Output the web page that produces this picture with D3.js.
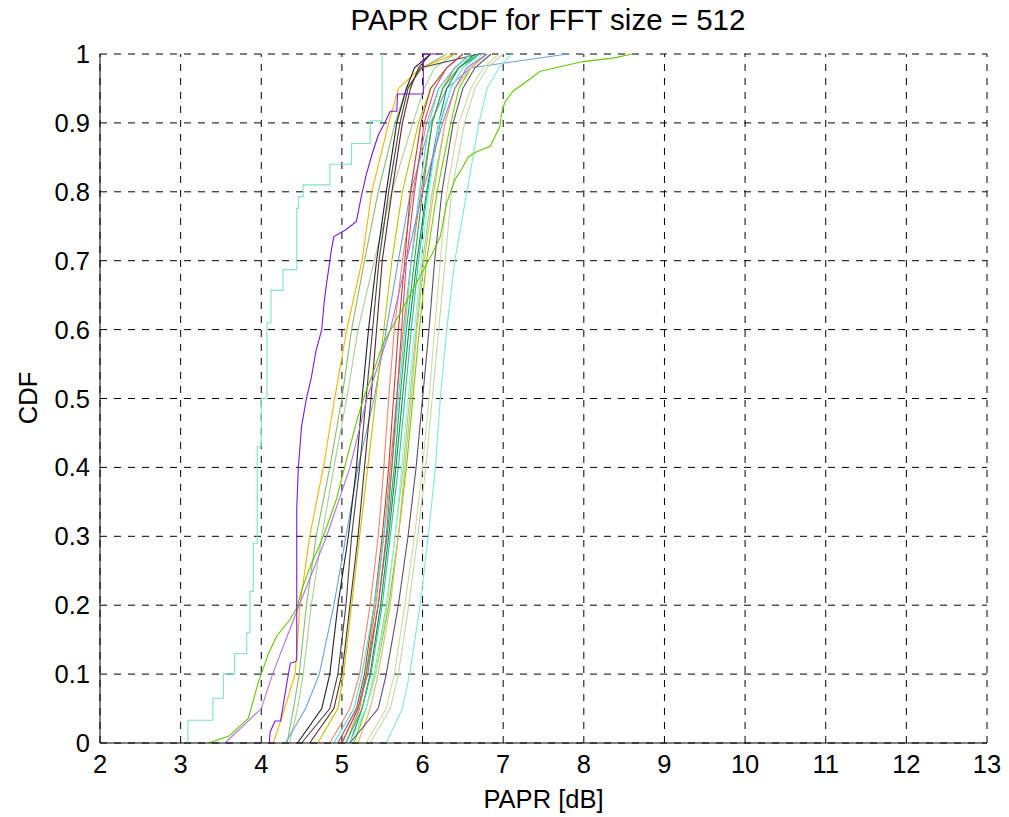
<!DOCTYPE html>
<html><head><meta charset="utf-8">
<script src="https://cdn.jsdelivr.net/npm/d3@7"></script>
<style>body{margin:0;background:#fff}svg{display:block}</style>
</head><body>
<svg id="chart" width="1009" height="817"></svg>
<script>
const title = "PAPR CDF for FFT size = 512";
const xLabel = "PAPR [dB]";
const yLabel = "CDF";
const xTicks = [2,3,4,5,6,7,8,9,10,11,12,13];
const yTicks = [0,0.1,0.2,0.3,0.4,0.5,0.6,0.7,0.8,0.9,1];
const levels = [0,0.05,0.1,0.2,0.3,0.4,0.5,0.6,0.7,0.8,0.9,0.95,0.98,1];

// curves read at the shared CDF levels (PAPR in dB)
const bundleColors = ["#a9cf96","#88bb6a","#f4b400","#6f9fe0","#b8c400","#202020","#444444","#5a2a20",
  "#f4836f","#b8452e","#f07c28","#3fe0e8","#1fae4a","#138a5a","#c0507a","#2fc08a","#8fe05a","#70d000",
  "#8ff0f0","#e8b078","#5e4e6e","#d8d4a0","#b8dca8","#80e8d4","#b070e8"];
const bundleX = [
  [4.35,4.45,4.52,4.62,4.75,4.90,5.06,5.20,5.40,5.62,5.88,6.02,6.15,6.40],
  [4.32,4.40,4.47,4.56,4.68,4.85,5.00,5.12,5.28,5.45,5.66,5.80,6.00,6.30],
  [4.15,4.29,4.42,4.48,4.60,4.77,4.91,5.06,5.25,5.37,5.58,5.70,5.98,6.40],
  [4.30,4.55,4.72,4.90,5.05,5.20,5.40,5.55,5.70,5.85,6.10,6.30,6.60,7.80],
  [4.70,4.95,5.02,5.12,5.22,5.32,5.42,5.52,5.62,5.75,5.95,6.10,6.30,6.50],
  [4.45,4.75,4.85,4.95,5.08,5.18,5.25,5.33,5.43,5.55,5.68,5.80,5.90,6.10],
  [4.50,4.85,4.95,5.05,5.12,5.22,5.30,5.38,5.46,5.58,5.72,5.82,5.98,6.70],
  [4.60,4.90,5.00,5.10,5.20,5.28,5.36,5.43,5.50,5.62,5.75,5.85,5.95,6.10],
  [4.85,5.10,5.22,5.35,5.45,5.52,5.58,5.65,5.75,5.88,6.05,6.20,6.40,6.60],
  [4.95,5.18,5.28,5.40,5.50,5.58,5.64,5.70,5.78,5.85,5.98,6.10,6.30,6.50],
  [5.05,5.22,5.30,5.42,5.52,5.60,5.68,5.76,5.86,5.98,6.12,6.25,6.40,6.60],
  [4.90,5.15,5.25,5.40,5.52,5.62,5.70,5.78,5.86,5.96,6.08,6.20,6.40,6.60],
  [5.00,5.20,5.30,5.45,5.56,5.65,5.72,5.80,5.90,6.00,6.12,6.25,6.45,6.70],
  [5.10,5.25,5.35,5.48,5.58,5.67,5.75,5.83,5.93,6.05,6.20,6.30,6.45,6.65],
  [5.00,5.20,5.32,5.45,5.55,5.62,5.68,5.74,5.80,5.90,6.02,6.15,6.30,6.50],
  [5.05,5.25,5.36,5.50,5.60,5.70,5.78,5.86,5.95,6.06,6.22,6.35,6.50,6.70],
  [5.10,5.30,5.40,5.55,5.66,5.76,5.84,5.92,6.00,6.12,6.28,6.40,6.55,6.80],
  [5.15,5.30,5.42,5.58,5.70,5.80,5.88,5.96,6.05,6.18,6.35,6.45,6.60,6.80],
  [5.10,5.30,5.42,5.56,5.66,5.74,5.82,5.90,5.98,6.08,6.20,6.35,6.50,6.75],
  [5.20,5.35,5.45,5.60,5.70,5.78,5.86,5.93,6.02,6.14,6.28,6.40,6.60,6.80],
  [5.10,5.45,5.55,5.70,5.82,5.92,6.00,6.08,6.15,6.24,6.38,6.50,6.65,6.85],
  [5.30,5.55,5.65,5.78,5.90,6.00,6.08,6.15,6.22,6.30,6.45,6.60,6.75,6.95],
  [5.35,5.60,5.70,5.83,5.94,6.04,6.12,6.20,6.28,6.36,6.52,6.65,6.80,7.00],
  [5.55,5.75,5.84,5.97,6.07,6.16,6.22,6.30,6.40,6.55,6.70,6.80,6.95,7.10],
  [3.55,4.00,4.14,4.47,4.81,5.10,5.31,5.60,5.80,6.00,6.25,6.40,6.55,6.80]
];

// curves read as individual corner points
const greenX = [3.35,3.60,3.84,3.96,4.09,4.19,4.36,4.44,4.50,4.60,4.77,4.93,5.10,5.20,5.29,5.37,5.51,5.75,5.98,6.12,6.22,6.30,6.40,6.48,6.57,6.67,6.84,6.96,6.98,7.02,7.12,7.29,7.46,7.99,8.36,8.60];
const greenY = [0,0.01,0.036,0.087,0.13,0.155,0.18,0.196,0.222,0.254,0.30,0.353,0.43,0.474,0.508,0.532,0.58,0.63,0.68,0.71,0.735,0.784,0.817,0.832,0.851,0.858,0.866,0.895,0.914,0.93,0.946,0.96,0.975,0.989,0.994,1];
const purpleX = [4.10,4.11,4.17,4.24,4.31,4.36,4.42,4.44,4.44,4.46,4.50,4.56,4.62,4.68,4.75,4.78,4.81,4.87,4.90,5.05,5.18,5.24,5.30,5.37,5.45,5.53,5.60,5.68,5.69,6.01,6.01,6.20];
const purpleY = [0,0.016,0.032,0.032,0.082,0.116,0.118,0.12,0.34,0.40,0.46,0.50,0.53,0.57,0.60,0.64,0.667,0.716,0.735,0.745,0.757,0.793,0.824,0.853,0.882,0.90,0.917,0.917,0.942,0.942,1,1];
const tealX = [3.09,3.09,3.40,3.40,3.53,3.53,3.67,3.67,3.82,3.82,3.86,3.86,3.90,3.90,3.95,3.95,4.00,4.00,4.07,4.07,4.12,4.12,4.27,4.27,4.44,4.44,4.46,4.46,4.52,4.52,4.85,4.85,5.12,5.12,5.35,5.35,5.50,5.50];
const tealY = [0,0.033,0.033,0.065,0.065,0.10,0.10,0.13,0.13,0.16,0.16,0.22,0.22,0.29,0.29,0.43,0.43,0.50,0.50,0.61,0.61,0.657,0.657,0.687,0.687,0.776,0.776,0.793,0.793,0.81,0.81,0.84,0.84,0.87,0.87,0.903,0.903,1];

const m = {left:100, right:987, top:54, bottom:743};
const svg = d3.select("#chart");
const x = d3.scaleLinear().domain([2,13]).range([m.left, m.right]);
const y = d3.scaleLinear().domain([0,1]).range([m.bottom, m.top]);
const font = "'Liberation Sans', Arial, sans-serif";

// grid
const grid = svg.append("g").attr("stroke","#000").attr("stroke-width",1).attr("stroke-dasharray","7,7").attr("fill","none");
xTicks.forEach(t => grid.append("line").attr("x1",x(t)).attr("x2",x(t)).attr("y1",y(0)).attr("y2",y(1)));
yTicks.forEach(t => grid.append("line").attr("x1",x(2)).attr("x2",x(13)).attr("y1",y(t)).attr("y2",y(t)));

// curves
svg.append("clipPath").attr("id","pa").append("rect")
  .attr("x",m.left).attr("y",m.top-1).attr("width",m.right-m.left+1).attr("height",m.bottom-m.top+2);
const g = svg.append("g").attr("clip-path","url(#pa)");
const line = d3.line().x(d=>x(d[0])).y(d=>y(d[1])).curve(d3.curveLinear);
function draw(xs, ys, color){
  g.append("path").datum(xs.map((v,i)=>[v, ys[i]]))
   .attr("d", line).attr("fill","none").attr("stroke",color).attr("stroke-width",1.1);
}
bundleX.forEach((xs,i)=>draw(xs, levels, bundleColors[i]));
draw(greenX, greenY, "#62c800");
draw(purpleX, purpleY, "#7a18dc");
draw(tealX, tealY, "#7fe3c3");

// axes lines (left, bottom)
svg.append("line").attr("x1",m.left).attr("x2",m.left).attr("y1",m.top).attr("y2",m.bottom).attr("stroke","#000").attr("stroke-width",1);
svg.append("line").attr("x1",m.left).attr("x2",m.right).attr("y1",m.bottom).attr("y2",m.bottom).attr("stroke","#000").attr("stroke-width",1);

// tick labels
const fmtY = d3.format("~g");
svg.append("g").selectAll("text").data(yTicks).join("text")
  .attr("x", m.left-10).attr("y", d=>y(d)+9).attr("text-anchor","end")
  .attr("font-family",font).attr("font-size",25.5).text(d=>fmtY(d));
svg.append("g").selectAll("text").data(xTicks).join("text")
  .attr("x", d=>x(d)).attr("y", m.bottom+30).attr("text-anchor","middle")
  .attr("font-family",font).attr("font-size",25.5).text(d=>d);

svg.append("text").attr("x",548).attr("y",30).attr("text-anchor","middle")
  .attr("font-family",font).attr("font-size",29.5).text(title);
svg.append("text").attr("x",(m.left+m.right)/2).attr("y",808).attr("text-anchor","middle")
  .attr("font-family",font).attr("font-size",25.5).text(xLabel);
svg.append("text").attr("transform","translate(37,398) rotate(-90)").attr("text-anchor","middle")
  .attr("font-family",font).attr("font-size",25.5).text(yLabel);
</script>
</body></html>
